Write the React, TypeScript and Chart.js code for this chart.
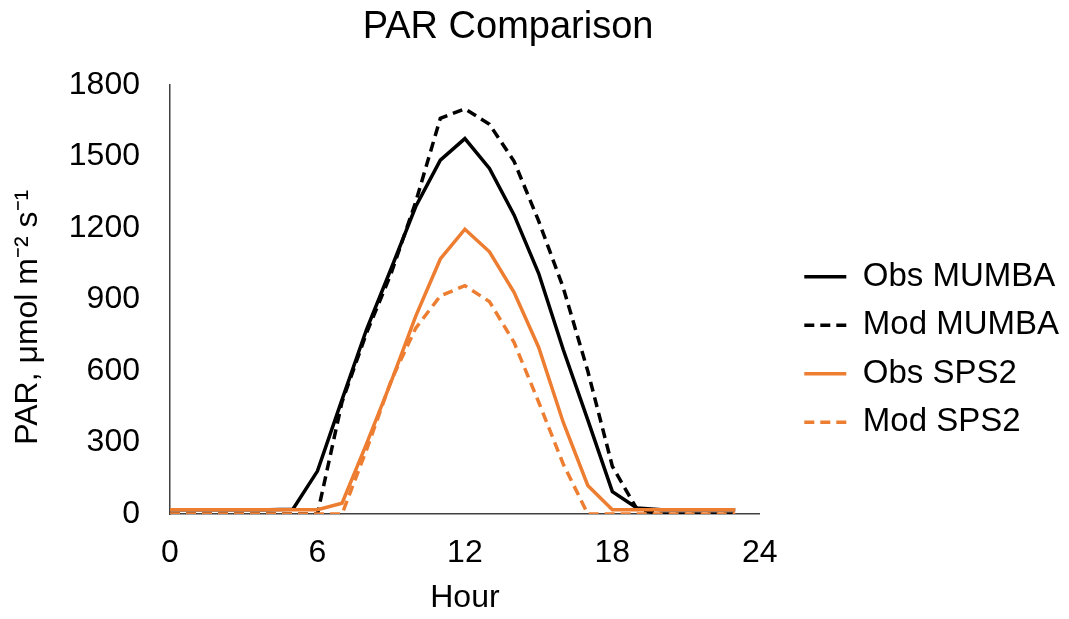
import React, { useEffect, useRef } from "react";
import { Chart, registerables } from "chart.js";

Chart.register(...registerables);

const hours = [0, 1, 2, 3, 4, 5, 6, 7, 8, 9, 10, 11, 12, 13, 14, 15, 16, 17, 18, 19, 20, 21, 22, 23];
const obsMumba = [18, 18, 18, 18, 18, 20, 180, 480, 775, 1030, 1290, 1485, 1575, 1450, 1255, 1010, 690, 395, 94, 25, 18, 18, 18, 18];
const modMumba = [0, 0, 0, 0, 0, 0, 0, 470, 760, 1010, 1310, 1660, 1700, 1635, 1480, 1230, 950, 600, 200, 20, 0, 0, 0, 0];
const obsSps2 = [18, 18, 18, 18, 18, 18, 18, 45, 295, 555, 830, 1070, 1195, 1100, 930, 700, 385, 120, 18, 18, 18, 18, 18, 18];
const modSps2 = [0, 0, 0, 0, 0, 0, 0, 0, 270, 560, 780, 915, 958, 891, 720, 470, 210, 0, 0, 0, 0, 0, 0, 0];

const seriesNames = ["Obs MUMBA", "Mod MUMBA", "Obs SPS2", "Mod SPS2"];
const xTicks = [0, 6, 12, 18, 24];
const yTicks = [0, 300, 600, 900, 1200, 1500, 1800];

const BLACK = "#000000";
const ORANGE = "#ED7D31";
const FONT = "'Liberation Sans', Arial, sans-serif";

export default function App() {
  const ref = useRef<HTMLCanvasElement | null>(null);

  useEffect(() => {
    const canvas = ref.current;
    if (!canvas) return;
    const toPts = (vals: number[]) => hours.map((h, i) => ({ x: h, y: vals[i] }));
    const mk = (label: string, vals: number[], color: string, dashed: boolean, order: number) => ({
      label,
      data: toPts(vals),
      borderColor: color,
      backgroundColor: color,
      borderWidth: 3.5,
      borderDash: dashed ? [10, 6] : [],
      pointRadius: 0,
      pointHoverRadius: 0,
      tension: 0,
      fill: false,
      order,
    });
    const chart = new Chart(canvas, {
      type: "line",
      data: {
        datasets: [
          mk(seriesNames[0], obsMumba, BLACK, false, 4),
          mk(seriesNames[1], modMumba, BLACK, true, 3),
          mk(seriesNames[2], obsSps2, ORANGE, false, 2),
          mk(seriesNames[3], modSps2, ORANGE, true, 1),
        ],
      },
      options: {
        responsive: false,
        animation: false,
        layout: { padding: { left: 0, right: 0, top: 0, bottom: 0 } },
        plugins: {
          title: {
            display: true,
            text: "PAR Comparison     ",
            color: "#000",
            font: { family: FONT, size: 38, weight: "normal" },
            padding: { top: 5.2, bottom: 34.2 },
          },
          legend: {
            position: "right",
            maxWidth: 300,
            title: {
              display: true,
              text: " ",
              font: { family: FONT, size: 10 },
              padding: { top: 68, bottom: 0 },
            },
            labels: {
              usePointStyle: true,
              pointStyle: "line",
              pointStyleWidth: 42,
              color: "#000",
              font: { family: FONT, size: 33 },
              padding: 15.5,
              sort: (a: any, b: any) => a.datasetIndex - b.datasetIndex,
              generateLabels: (ch: any) => {
                const base = Chart.defaults.plugins.legend.labels.generateLabels(ch);
                return base.map((it: any) => {
                  const ds = ch.data.datasets[it.datasetIndex];
                  return {
                    ...it,
                    lineDash: ds.borderDash,
                    lineWidth: 3.5,
                    strokeStyle: ds.borderColor,
                    fillStyle: ds.borderColor,
                    pointStyle: "line",
                  };
                });
              },
            },
          },
          tooltip: { enabled: false },
        },
        scales: {
          x: {
            type: "linear",
            min: 0,
            max: 24,
            afterBuildTicks: (s: any) => {
              s.ticks = xTicks.map((v) => ({ value: v }));
            },
            afterFit: (s: any) => {
              s.height = 105;
            },
            ticks: { color: "#000", font: { family: FONT, size: 32 }, padding: 20, callback: (v: any) => String(v) },
            grid: { display: false, drawTicks: false },
            border: { display: true, color: "#404040", width: 1.5 },
            title: {
              display: true,
              text: "Hour",
              color: "#000",
              font: { family: FONT, size: 32 },
              padding: { top: 0, bottom: 2 },
            },
          },
          y: {
            type: "linear",
            min: 0,
            max: 1800,
            afterBuildTicks: (s: any) => {
              s.ticks = yTicks.map((v) => ({ value: v }));
            },
            afterFit: (s: any) => {
              s.width = 170;
            },
            ticks: { color: "#000", font: { family: FONT, size: 32 }, padding: 30, callback: (v: any) => String(v) },
            grid: { display: false, drawTicks: false },
            border: { display: true, color: "#404040", width: 1.5 },
            title: {
              display: true,
              text: "PAR, μmol m⁻² s⁻¹    ",
              color: "#000",
              font: { family: FONT, size: 32 },
              padding: { top: 9, bottom: 0 },
            },
          },
          yR: {
            type: "linear",
            position: "right",
            min: 0,
            max: 1,
            display: true,
            ticks: { display: false },
            grid: { display: false, drawTicks: false },
            border: { display: false },
            afterFit: (s: any) => {
              s.width = 29;
            },
          },
        },
      },
    });
    return () => chart.destroy();
  }, []);

  return (
    <div style={{ position: "fixed", left: 0, top: 0, width: 1069, height: 619, background: "#fff" }}>
      <canvas ref={ref} width={1069} height={619} style={{ display: "block", width: 1069, height: 619 }} />
    </div>
  );
}
